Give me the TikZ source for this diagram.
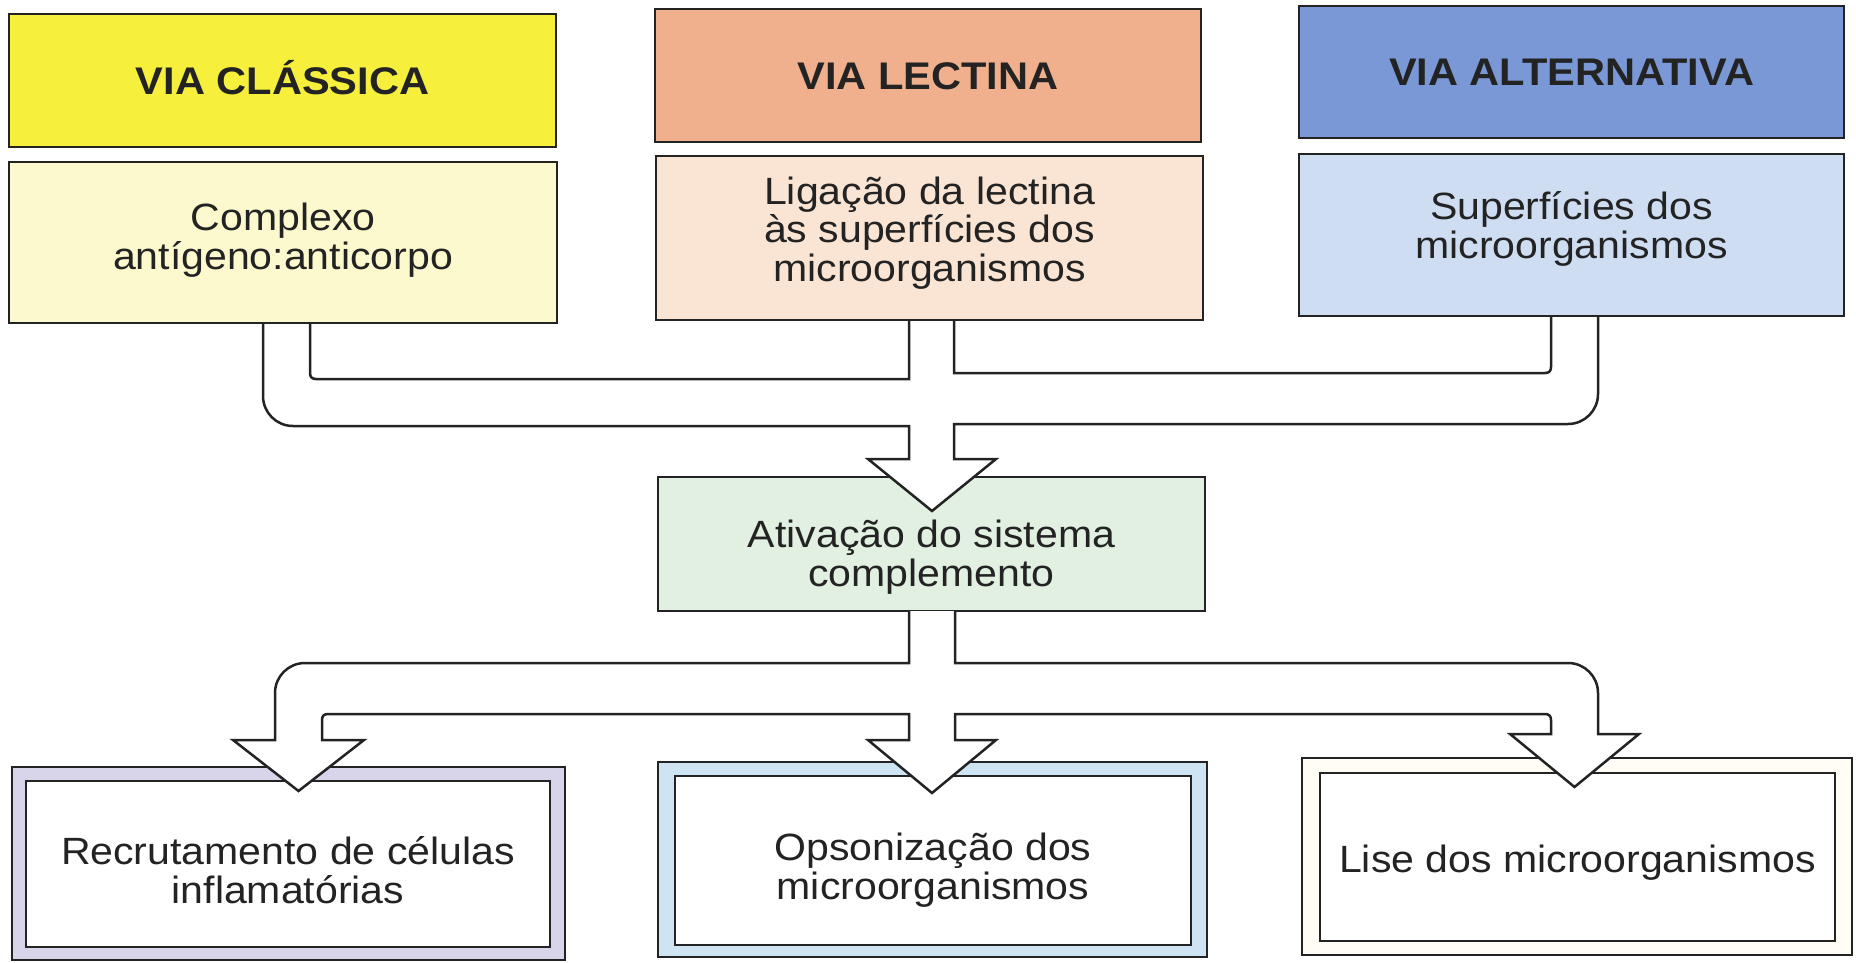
\documentclass[tikz,border=0pt]{standalone}
\usepackage{fontspec}
\setmainfont[FakeStretch=1.08]{Liberation Sans}
\usetikzlibrary{calc}
\definecolor{ink}{RGB}{35,35,35}
\definecolor{clH}{RGB}{246,240,60}
\definecolor{clB}{RGB}{251,249,205}
\definecolor{leH}{RGB}{240,176,142}
\definecolor{leB}{RGB}{250,228,212}
\definecolor{alH}{RGB}{122,152,214}
\definecolor{alB}{RGB}{206,221,242}
\definecolor{acB}{RGB}{226,240,226}
\definecolor{reB}{RGB}{216,212,234}
\definecolor{opB}{RGB}{206,228,242}
\definecolor{liB}{RGB}{255,253,245}
\begin{document}
\begin{tikzpicture}[x=1pt,y=-1pt,
  box/.style={draw=ink, line width=2.5pt, inner sep=0pt},
  hdr/.style={font=\fontsize{38.5}{42}\selectfont\bfseries, text=ink, text height=27.5pt, text depth=0pt},
  txt/.style={align=center, font=\fontsize{38}{38.5}\selectfont, text=ink, inner sep=0pt},
  pipe/.style={draw=ink, line width=2.5pt, line join=miter}
]
\useasboundingbox (0,0) rectangle (1856,963);
\fill[white] (0,0) rectangle (1856,963);

% headers
\node[box, hdr, fill=clH, minimum width=547pt, minimum height=133pt] (h1) at (282.5,80.5) {VIA CLÁSSICA};
\node[box, hdr, fill=leH, minimum width=546pt, minimum height=133pt] (h2) at (928,75.5) {VIA LECTINA};
\node[box, hdr, fill=alH, minimum width=545pt, minimum height=132pt] (h3) at (1571.5,72) {VIA ALTERNATIVA};

% trigger boxes
\node[box, fill=clB, minimum width=548pt, minimum height=161pt] (b1) at (283,242.5) {};
\node[box, fill=leB, minimum width=547pt, minimum height=164pt] (b2) at (929.5,238) {};
\node[box, fill=alB, minimum width=545pt, minimum height=162pt] (b3) at (1571.5,235) {};
\node[txt] (t1) at (283,240) {Complexo\\antígeno:anticorpo};
\node[txt] (t2) at (929.5,233) {Ligação da lectina\\às superfícies dos\\microorganismos};
\node[txt] (t3) at (1571.5,229) {Superfícies dos\\microorganismos};

% activation
\node[box, fill=acB, minimum width=547pt, minimum height=134pt] (ac) at (931.5,544) {};
\node[txt] (tac) at (931.5,557) {Ativação do sistema\\complemento};

% outcome boxes
\node[box, fill=reB, minimum width=553pt, minimum height=193pt] (r1o) at (288.5,863.5) {};
\node[box, fill=white, minimum width=524pt, minimum height=166pt] (r1) at (288,864) {};
\node[box, fill=opB, minimum width=549pt, minimum height=195pt] (o1o) at (932.5,859.5) {};
\node[box, fill=white, minimum width=516pt, minimum height=169pt] (o1) at (933,860.5) {};
\node[box, fill=liB, minimum width=550pt, minimum height=197pt] (l1o) at (1577,856.5) {};
\node[box, fill=white, minimum width=515pt, minimum height=168pt] (l1) at (1577.5,857) {};
\node[txt] (tr) at (288,870) {Recrutamento de células\\inflamatórias};
\node[txt] (to) at (933,870) {Opsonização dos\\microorganismos};
\node[txt] (tl) at (1577.5,863) {Lise dos microorganismos};

% upper pipes
\fill[white] (868,459) -- (932,511) -- (996,459) -- cycle;
\draw[pipe] (263,323) -- (263,396) .. controls (263,412.6) and (276.4,426) .. (293,426)
  -- (909,426) -- (909,459) -- (868,459) -- (932,511) -- (996,459) -- (954,459) -- (954,424)
  -- (1568,424) .. controls (1584.6,424) and (1598,410.6) .. (1598,394) -- (1598,316);
\draw[pipe] (310,323) -- (310,373) .. controls (310,377) and (312,379) .. (316,379) -- (909,379) -- (909,320);
\draw[pipe] (954,320) -- (954,373) -- (1545,373) .. controls (1549,373) and (1551,371) .. (1551,367) -- (1551,316);

% lower pipes
\draw[pipe, fill=white] (909,611) -- (909,663) -- (305,663) .. controls (288.4,663) and (275,676.4) .. (275,693)
  -- (275,740) -- (233,740) -- (298.5,791) -- (364,740) -- (322,740) -- (322,720)
  .. controls (322,716) and (324,714) .. (328,714) -- (909,714) -- (909,740) -- (868,740)
  -- (932,793) -- (996,740) -- (955,740) -- (955,714) -- (1545,714)
  .. controls (1549,714) and (1551,716) .. (1551,720) -- (1551,734) -- (1510,734)
  -- (1574.5,787) -- (1639,734) -- (1598,734) -- (1598,693)
  .. controls (1598,676.4) and (1584.6,663) .. (1568,663) -- (955,663) -- (955,611);
\end{tikzpicture}
\end{document}
